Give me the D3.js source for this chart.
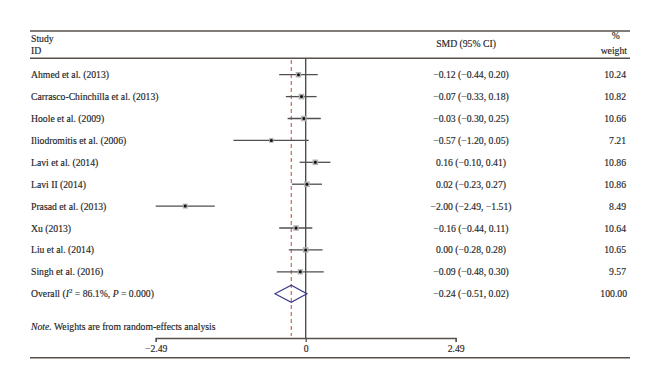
<!DOCTYPE html>
<html>
<head>
<meta charset="utf-8">
<script src="https://cdn.jsdelivr.net/npm/d3@7"></script>
<style>
  body { margin: 0; background: #fff; }
  svg { display: block; }
  text { font-family: "Liberation Serif", "DejaVu Serif", serif; font-size: 9.7px; fill: #1e1e1e; stroke: #1e1e1e; stroke-width: 0.15px; }
</style>
</head>
<body>
<svg width="660" height="389"></svg>
<script>
var studies = ["Ahmed et al. (2013)", "Carrasco-Chinchilla et al. (2013)", "Hoole et al. (2009)",
  "Iliodromitis et al. (2006)", "Lavi et al. (2014)", "Lavi II (2014)", "Prasad et al. (2013)",
  "Xu (2013)", "Liu et al. (2014)", "Singh et al. (2016)"];
var smd   = [-0.12, -0.07, -0.03, -0.57, 0.16, 0.02, -2.00, -0.16, 0.00, -0.09];
var lower = [-0.44, -0.33, -0.30, -1.20, -0.10, -0.23, -2.49, -0.44, -0.28, -0.48];
var upper = [0.20, 0.18, 0.25, 0.05, 0.41, 0.27, -1.51, 0.11, 0.28, 0.30];
var weight = ["10.24", "10.82", "10.66", "7.21", "10.86", "10.86", "8.49", "10.64", "10.65", "9.57"];
var overall = {smd: -0.24, lower: -0.51, upper: 0.02, weight: "100.00"};
var axisTicks = [-2.49, 0, 2.49];

var svg = d3.select("svg");
var lineColor = "#57504b";

var x = d3.scaleLinear().domain([-2.49, 2.49]).range([155.7, 455.7]);
var y = d3.scalePoint().domain(d3.range(studies.length + 1)).range([74.7, 293.7]);

var fmt = d3.format(".2f");
function ci(e, l, u) { return fmt(e) + " (" + fmt(l) + ", " + fmt(u) + ")"; }

var data = studies.map(function(s, i) {
  return {name: s, smd: smd[i], lo: lower[i], hi: upper[i], w: weight[i], i: i};
});

// rules
[31, 58.3, 357.7].forEach(function(ry) {
  svg.append("line").attr("x1", 30).attr("x2", 630).attr("y1", ry).attr("y2", ry)
      .attr("stroke", lineColor).attr("stroke-width", 1.6);
});

// headers
svg.append("text").attr("x", 31).attr("y", 41.5).text("Study");
svg.append("text").attr("x", 31).attr("y", 53.5).text("ID");
svg.append("text").attr("x", 466).attr("y", 47).attr("text-anchor", "middle").text("SMD (95% CI)");
svg.append("text").attr("x", 615.7).attr("y", 39).attr("text-anchor", "middle").text("%");
svg.append("text").attr("x", 627).attr("y", 54).attr("text-anchor", "end").text("weight");

// reference lines
svg.append("line").attr("x1", x(0)).attr("x2", x(0)).attr("y1", 58.3).attr("y2", 338)
    .attr("stroke", "#444").attr("stroke-width", 1.3);
svg.append("line").attr("x1", x(overall.smd)).attr("x2", x(overall.smd)).attr("y1", 60).attr("y2", 336)
    .attr("stroke", "#c8463c").attr("stroke-width", 1).attr("stroke-dasharray", "4,3");

// study rows
var row = svg.selectAll(".row").data(data).enter().append("g").attr("class", "row");

row.append("text").attr("x", 31).attr("y", function(d) { return y(d.i) + 3.5; })
    .text(function(d) { return d.name; });
row.append("text").attr("x", 471).attr("y", function(d) { return y(d.i) + 3.5; })
    .attr("text-anchor", "middle")
    .text(function(d) { return ci(d.smd, d.lo, d.hi); });
row.append("text").attr("x", 626).attr("y", function(d) { return y(d.i) + 3.5; })
    .attr("text-anchor", "end")
    .text(function(d) { return d.w; });

row.append("line")
    .attr("x1", function(d) { return x(d.lo); })
    .attr("x2", function(d) { return x(d.hi); })
    .attr("y1", function(d) { return y(d.i); })
    .attr("y2", function(d) { return y(d.i); })
    .attr("stroke", "#4f4f4f").attr("stroke-width", 1.3);

var side = function(w) { return 1.7 * Math.sqrt(+w); };
row.append("rect")
    .attr("x", function(d) { return x(d.smd) - side(d.w) / 2; })
    .attr("y", function(d) { return y(d.i) - side(d.w) / 2; })
    .attr("width", function(d) { return side(d.w); })
    .attr("height", function(d) { return side(d.w); })
    .attr("fill", "#b0b0b0");
row.append("circle")
    .attr("cx", function(d) { return x(d.smd); })
    .attr("cy", function(d) { return y(d.i); })
    .attr("r", 1.5).attr("fill", "#111");

// overall
var oy = y(studies.length);
var ot = svg.append("text").attr("x", 31).attr("y", oy + 3.5);
ot.append("tspan").text("Overall (");
ot.append("tspan").attr("font-style", "italic").text("I");
ot.append("tspan").attr("dy", -4).attr("font-size", "7px").text("2");
ot.append("tspan").attr("dy", 4).text(" = 86.1%, ");
ot.append("tspan").attr("font-style", "italic").text("P");
ot.append("tspan").text(" = 0.000)");
svg.append("text").attr("x", 471).attr("y", oy + 3.5).attr("text-anchor", "middle")
    .text(ci(overall.smd, overall.lower, overall.upper));
svg.append("text").attr("x", 627).attr("y", oy + 3.5).attr("text-anchor", "end").text(overall.weight);

svg.append("path")
    .attr("d", "M" + x(overall.lower) + "," + oy + "L" + x(overall.smd) + "," + (oy - 8.5) +
      "L" + x(overall.upper) + "," + oy + "L" + x(overall.smd) + "," + (oy + 8.5) + "Z")
    .attr("fill", "none").attr("stroke", "#3b3b8c").attr("stroke-width", 1.2);

// note
var nt = svg.append("text").attr("x", 31).attr("y", 330);
nt.append("tspan").attr("font-style", "italic").text("Note.");
nt.append("tspan").text(" Weights are from random-effects analysis");

// axis
var axis = svg.append("g").attr("transform", "translate(0,338)")
    .call(d3.axisBottom(x).tickValues(axisTicks).tickSize(4).tickSizeOuter(4).tickPadding(3)
      .tickFormat(function(d) { return d === 0 ? "0" : d3.format(".2f")(d); }));
axis.select(".domain").attr("stroke", lineColor).attr("stroke-width", 1.3);
axis.selectAll(".tick line").attr("stroke", lineColor).attr("stroke-width", 1.3);
axis.selectAll(".tick text").attr("font-family", null).attr("font-size", null).attr("fill", null);
</script>
</body>
</html>
